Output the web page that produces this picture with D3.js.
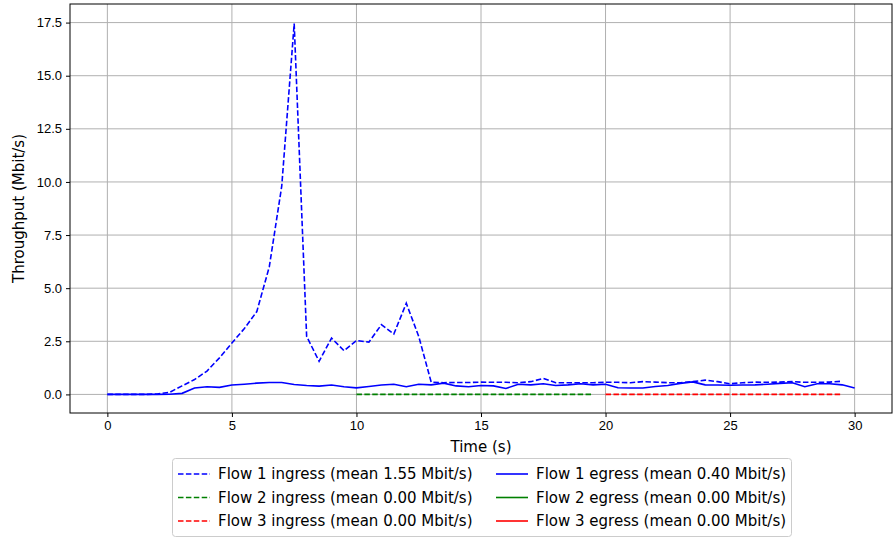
<!DOCTYPE html>
<html>
<head>
<meta charset="utf-8">
<script src="https://cdn.jsdelivr.net/npm/d3@7"></script>
<style>
  body { margin: 0; background: #fff; }
  svg { font-family: "DejaVu Sans", sans-serif; }
  .grid line { stroke: #b0b0b0; stroke-width: 1; }
  .axis text { font-size: 13px; fill: #000; }
  .axis line { stroke: #000; }
</style>
</head>
<body>
<div id="chart"></div>
<script>
// sample times (s)
const flow1InTime = [0, 0.5, 1, 1.5, 2, 2.5, 3, 3.5, 4, 4.5, 5, 5.5, 6, 6.5, 7, 7.5, 8, 8.5, 9, 9.5,
    10, 10.5, 11, 11.5, 12, 12.5, 13, 13.5, 14, 14.5, 15, 15.5, 16, 16.5, 17, 17.5, 18, 18.5, 19, 19.5,
    20, 20.5, 21, 21.5, 22, 22.5, 23, 23.5, 24, 24.5, 25, 25.5, 26, 26.5, 27, 27.5, 28, 28.5, 29, 29.5];
const flow1InValue = [0, 0, 0, 0, 0.02, 0.1, 0.4, 0.7, 1.1, 1.72, 2.42, 3.1, 3.9, 6.0, 9.8, 17.45, 2.73, 1.56, 2.65, 2.06,
    2.54, 2.46, 3.28, 2.84, 4.29, 2.73, 0.58, 0.55, 0.56, 0.56, 0.58, 0.57, 0.57, 0.55, 0.6, 0.75, 0.55, 0.55, 0.55, 0.55,
    0.57, 0.57, 0.55, 0.6, 0.58, 0.55, 0.55, 0.6, 0.67, 0.6, 0.5, 0.55, 0.58, 0.57, 0.58, 0.6, 0.57, 0.57, 0.58, 0.62];

const flow1OutTime = [0, 0.5, 1, 1.5, 2, 2.5, 3, 3.5, 4, 4.5, 5, 5.5, 6, 6.5, 7, 7.5, 8, 8.5, 9, 9.5,
    10, 10.5, 11, 11.5, 12, 12.5, 13, 13.5, 14, 14.5, 15, 15.5, 16, 16.5, 17, 17.5, 18, 18.5, 19, 19.5,
    20, 20.5, 21, 21.5, 22, 22.5, 23, 23.5, 24, 24.5, 25, 25.5, 26, 26.5, 27, 27.5, 28, 28.5, 29, 29.5, 30];
const flow1OutValue = [0, 0, 0, 0, 0, 0.01, 0.05, 0.3, 0.36, 0.33, 0.44, 0.48, 0.53, 0.56, 0.56, 0.47, 0.42, 0.39, 0.44, 0.36,
    0.31, 0.37, 0.44, 0.48, 0.36, 0.48, 0.45, 0.53, 0.4, 0.36, 0.42, 0.4, 0.28, 0.48, 0.45, 0.5, 0.42, 0.45, 0.5, 0.45,
    0.48, 0.31, 0.3, 0.3, 0.37, 0.42, 0.52, 0.59, 0.45, 0.44, 0.43, 0.44, 0.45, 0.48, 0.52, 0.55, 0.36, 0.5, 0.5, 0.45, 0.3];

const flow2InTime = [10, 10.5, 11, 11.5, 12, 12.5, 13, 13.5, 14, 14.5, 15, 15.5, 16, 16.5, 17, 17.5, 18, 18.5, 19, 19.5];
const flow2InValue = [0, 0, 0, 0, 0, 0, 0, 0, 0, 0, 0, 0, 0, 0, 0, 0, 0, 0, 0, 0];
const flow3InTime = [20, 20.5, 21, 21.5, 22, 22.5, 23, 23.5, 24, 24.5, 25, 25.5, 26, 26.5, 27, 27.5, 28, 28.5, 29, 29.5];
const flow3InValue = [0, 0, 0, 0, 0, 0, 0, 0, 0, 0, 0, 0, 0, 0, 0, 0, 0, 0, 0, 0];
const flow2OutTime = [], flow2OutValue = [];
const flow3OutTime = [], flow3OutValue = [];

const xTicks = [0, 5, 10, 15, 20, 25, 30];
const yTicks = [0, 2.5, 5, 7.5, 10, 12.5, 15, 17.5];

const legendLabels = [
    "Flow 1 ingress (mean 1.55 Mbit/s)", "Flow 2 ingress (mean 0.00 Mbit/s)", "Flow 3 ingress (mean 0.00 Mbit/s)",
    "Flow 1 egress (mean 0.40 Mbit/s)", "Flow 2 egress (mean 0.00 Mbit/s)", "Flow 3 egress (mean 0.00 Mbit/s)"
];
const flowColors = ["#0000ff", "#008000", "#ff0000"];

const width = 894, height = 540;
const margin = {left: 70, right: 2, top: 4, bottom: 127};

const svg = d3.select("#chart").append("svg")
    .attr("width", width)
    .attr("height", height);

let x = d3.scaleLinear().domain([-1.5, 31.5]).range([margin.left, width - margin.right]);
let y = d3.scaleLinear().domain([-0.875, 18.375]).range([height - margin.bottom, margin.top]);

// grid
svg.append("g").attr("class", "grid")
    .selectAll("line.v").data(xTicks).enter().append("line")
    .attr("x1", d => x(d)).attr("x2", d => x(d))
    .attr("y1", margin.top).attr("y2", height - margin.bottom);
svg.append("g").attr("class", "grid")
    .selectAll("line.h").data(yTicks).enter().append("line")
    .attr("x1", margin.left).attr("x2", width - margin.right)
    .attr("y1", d => y(d)).attr("y2", d => y(d));

// axes
svg.append("g").attr("class", "axis")
    .attr("transform", "translate(0," + (height - margin.bottom) + ")")
    .call(d3.axisBottom(x).tickValues(xTicks).tickSize(4).tickPadding(4).tickFormat(d3.format("d")))
    .call(g => g.select(".domain").remove());
svg.append("g").attr("class", "axis")
    .attr("transform", "translate(" + margin.left + ",0)")
    .call(d3.axisLeft(y).tickValues(yTicks).tickSize(4).tickPadding(4).tickFormat(d3.format(".1f")))
    .call(g => g.select(".domain").remove());

// lines
const line = d3.line().x(d => x(d[0])).y(d => y(d[1]));
const series = [
    {t: flow1InTime, v: flow1InValue, c: flowColors[0], dash: true},
    {t: flow1OutTime, v: flow1OutValue, c: flowColors[0], dash: false},
    {t: flow2InTime, v: flow2InValue, c: flowColors[1], dash: true},
    {t: flow2OutTime, v: flow2OutValue, c: flowColors[1], dash: false},
    {t: flow3InTime, v: flow3InValue, c: flowColors[2], dash: true},
    {t: flow3OutTime, v: flow3OutValue, c: flowColors[2], dash: false}
];
series.forEach(function (s) {
    if (!s.t.length) return;
    svg.append("path")
        .datum(s.t.map((t, i) => [t, s.v[i]]))
        .attr("d", line)
        .attr("fill", "none")
        .attr("stroke", s.c)
        .attr("stroke-width", 1.6)
        .attr("stroke-dasharray", s.dash ? "5.5,2.4" : null);
});

// frame
svg.append("rect")
    .attr("x", margin.left).attr("y", margin.top)
    .attr("width", width - margin.left - margin.right)
    .attr("height", height - margin.top - margin.bottom)
    .attr("fill", "none").attr("stroke", "#000").attr("stroke-width", 1);

// axis labels
svg.append("text")
    .attr("x", x(15)).attr("y", 452)
    .attr("text-anchor", "middle")
    .style("font-size", "15px")
    .text("Time (s)");
svg.append("text")
    .attr("transform", "translate(24," + y(8.75) + ") rotate(-90)")
    .attr("text-anchor", "middle")
    .style("font-size", "15px")
    .text("Throughput (Mbit/s)");

// legend
const legend = svg.append("g");
legend.append("rect")
    .attr("x", 172.5).attr("y", 458.5)
    .attr("width", 619).attr("height", 78)
    .attr("rx", 3)
    .attr("fill", "#fff").attr("stroke", "#cccccc");
const legendItems = [
    {label: legendLabels[0], c: flowColors[0], dash: true, col: 0, row: 0},
    {label: legendLabels[1], c: flowColors[1], dash: true, col: 0, row: 1},
    {label: legendLabels[2], c: flowColors[2], dash: true, col: 0, row: 2},
    {label: legendLabels[3], c: flowColors[0], dash: false, col: 1, row: 0},
    {label: legendLabels[4], c: flowColors[1], dash: false, col: 1, row: 1},
    {label: legendLabels[5], c: flowColors[2], dash: false, col: 1, row: 2}
];
const colX = [178, 496];
legendItems.forEach(function (d) {
    const ly = 474 + d.row * 23.5;
    legend.append("line")
        .attr("x1", colX[d.col]).attr("x2", colX[d.col] + 32)
        .attr("y1", ly).attr("y2", ly)
        .attr("stroke", d.c).attr("stroke-width", 1.6)
        .attr("stroke-dasharray", d.dash ? "5.5,2.4" : null);
    legend.append("text")
        .attr("x", colX[d.col] + 40).attr("y", ly + 5)
        .style("font-size", "15px")
        .text(d.label);
});
</script>
</body>
</html>
